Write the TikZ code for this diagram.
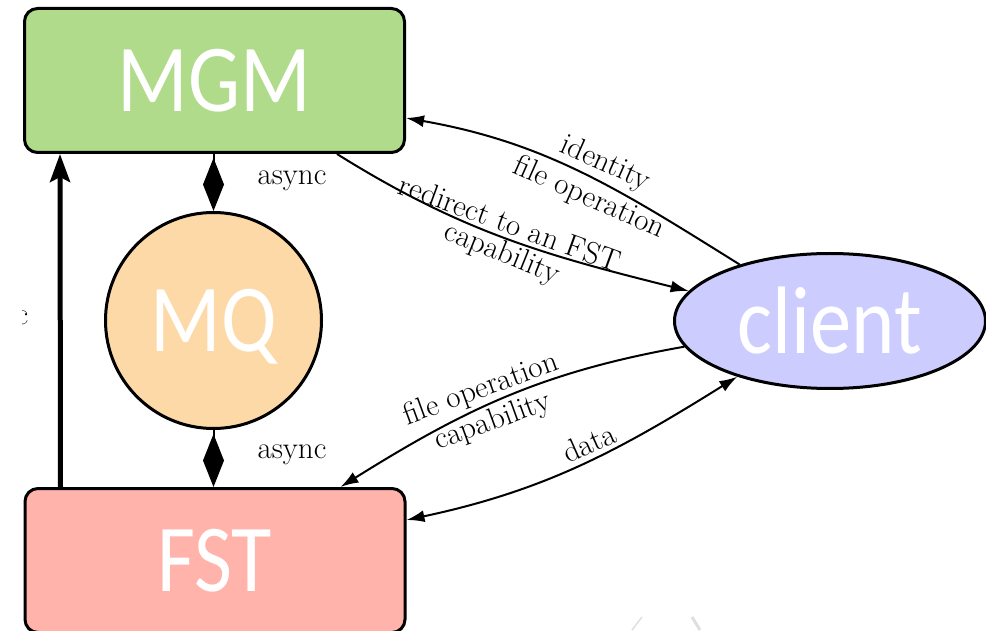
\documentclass[tikz,border=0pt]{standalone}
\usepackage{fontspec}
\newfontfamily\boxfont[FakeStretch=0.86]{Carlito}
\usetikzlibrary{arrows.meta,shapes.geometric}

\definecolor{mgmgreen}{RGB}{176,219,138}
\definecolor{mqorange}{RGB}{253,217,168}
\definecolor{clientblue}{RGB}{204,204,255}
\definecolor{fstred}{RGB}{255,179,171}

\tikzset{
  bigtext/.style={font=\boxfont\fontsize{96}{100}\selectfont, text=white},
  compbox/.style={bigtext, draw=black, line width=3pt, rounded corners=13pt,
    minimum width=380pt, minimum height=144pt, inner sep=0pt},
  mqnode/.style={bigtext, circle, draw=black, line width=3pt, fill=mqorange,
    minimum size=216pt, inner sep=0pt, text depth=0pt},
  clientnode/.style={bigtext, ellipse, draw=black, line width=3pt, fill=clientblue,
    minimum width=311pt, minimum height=135pt, inner sep=0pt},
  lbl/.style={font=\fontsize{31}{37}\selectfont, inner sep=0pt},
  msgline/.style={line width=2pt, draw=black},
  tipone/.style={msgline, -{Latex[length=18pt,width=12pt]}},
  tipboth/.style={msgline, {Latex[length=18pt,width=12pt]}-{Latex[length=18pt,width=12pt]}},
  asyncline/.style={line width=2pt, -{Diamond[length=53pt,width=21pt]}},
  heavyarrow/.style={line width=5pt, -{Stealth[length=28pt,width=20pt,inset=5pt]}}
}

\begin{document}
\begin{tikzpicture}[x=1pt,y=1pt]
\useasboundingbox (0,0) rectangle (986,630);
\clip (0,0) rectangle (986,630);

% components
\node[compbox, fill=mgmgreen] (mgm) at (214.5,549.5) {MGM};
\node[compbox, fill=fstred] (fst) at (215,69.5) {FST};
\node[mqnode] (mq) at (213.5,309.5) {MQ};
\node[clientnode] (client) at (830,309) {client};

% message queue links
\draw[asyncline] (mq.north |- mgm.south) -- (mq.north);
\draw[asyncline] (mq.south) -- (mq.south |- fst.north);
\node[lbl] (async1) at (292,449) {async};
\node[lbl] (async2) at (292,175) {async};

% FST reporting to MGM
\draw[heavyarrow] ([xshift=-154.5]fst.north) -- ([xshift=-154.5]mgm.south);
\begin{scope}
  \clip (22,0) rectangle (60,630);
  \node[lbl, anchor=east] (sidelbl) at (28.5,309.5) {async};
\end{scope}

% client <-> MGM
\draw[tipone] (client.148) to[out=148,in=-10] ([yshift=-37.5]mgm.east);
\draw[tipone] ([xshift=122.5]mgm.south) to[out=-32,in=166] (client.168);
\node[lbl, rotate=-24] (lid) at (605,466) {identity};
\node[lbl, rotate=-24] (lfo1) at (589,432) {file operation};
\node[lbl, rotate=-20] (lred) at (510,407) {redirect to an FST};
\node[lbl, rotate=-22] (lcap1) at (502,376) {capability};

% client <-> FST
\draw[tipone] (client.190) to[out=190,in=32] ([xshift=125.5]fst.north);
\draw[tipboth] ([yshift=40.5]fst.east) to[out=12,in=212] (client.211);
\node[lbl, rotate=20] (lfo2) at (481,240) {file operation};
\node[lbl, rotate=20] (lcap2) at (493,208) {capability};
\node[lbl, rotate=24] (ldata) at (589,187) {data};

% faint marks at the lower edge
\draw[gray!25, line width=1.5pt] (632,0) -- (642,13);
\draw[gray!25, line width=3pt] (692,13) -- (700,0);
\end{tikzpicture}
\end{document}
